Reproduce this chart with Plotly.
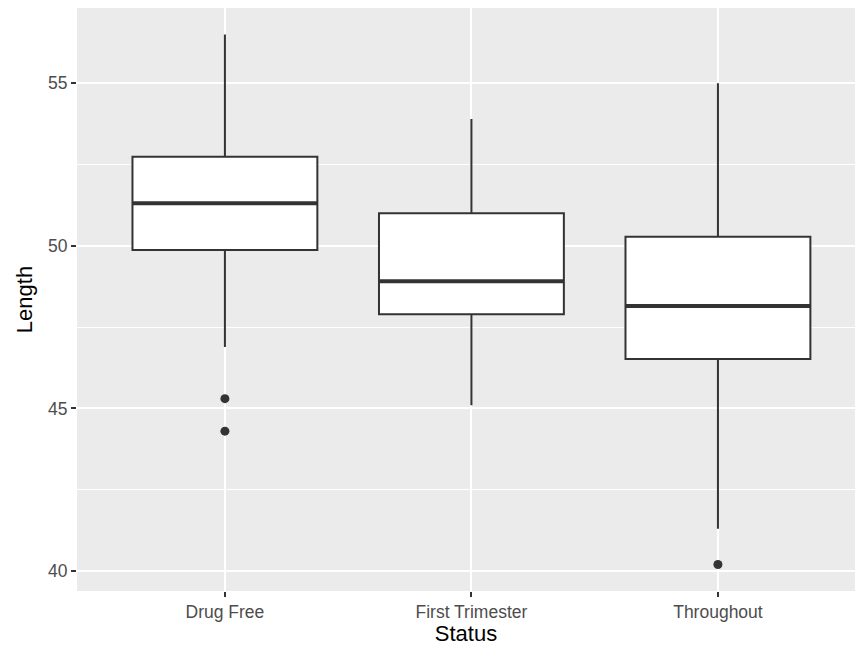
import plotly.graph_objects as go

# Summary statistics per exposure group
status = ["Drug Free", "First Trimester", "Throughout"]
q1 = [49.87, 47.90, 46.52]
median = [51.31, 48.91, 48.15]
q3 = [52.74, 51.00, 50.28]
lower_whisker = [46.89, 45.10, 41.30]
upper_whisker = [56.50, 53.90, 55.00]

# Points beyond the whiskers
outlier_group = [0, 0, 2]
outlier_length = [45.3, 44.3, 40.2]

positions = list(range(len(status)))
box_width = 0.75
ink = "#333333"

fig = go.Figure()

fig.add_trace(go.Box(
    x=positions, q1=q1, median=median, q3=q3,
    lowerfence=lower_whisker, upperfence=upper_whisker,
    width=box_width, whiskerwidth=0, boxpoints=False,
    fillcolor="white", line=dict(color=ink, width=2),
    showlegend=False, hoverinfo="skip",
))

# Thicker median bars
mx, my = [], []
for p, m in zip(positions, median):
    mx += [p - box_width / 2, p + box_width / 2, None]
    my += [m, m, None]
fig.add_trace(go.Scatter(
    x=mx, y=my, mode="lines", line=dict(color=ink, width=4),
    showlegend=False, hoverinfo="skip",
))

fig.add_trace(go.Scatter(
    x=outlier_group, y=outlier_length, mode="markers",
    marker=dict(color=ink, size=9),
    showlegend=False,
))

font_family = "Liberation Sans, Arial, sans-serif"

fig.update_layout(
    width=855, height=646,
    margin=dict(l=77, r=0, t=8, b=55, pad=0),
    paper_bgcolor="white",
    plot_bgcolor="#EBEBEB",
    font=dict(family=font_family, size=17, color="#4D4D4D"),
    xaxis=dict(
        range=[-0.6, 2.556],
        tickmode="array", tickvals=positions, ticktext=status,
        showgrid=True, gridcolor="white", gridwidth=2,
        zeroline=False, showline=False,
        ticks="outside", ticklen=5, tickwidth=2, tickcolor=ink,
        tickfont=dict(size=17.5, color="#4D4D4D"),
        title=dict(text="Status", font=dict(size=22, color="black"), standoff=3),
    ),
    yaxis=dict(
        range=[39.385, 57.315],
        tickmode="array", tickvals=[40, 45, 50, 55],
        showgrid=True, gridcolor="white", gridwidth=2,
        minor=dict(tickvals=[42.5, 47.5, 52.5], showgrid=True,
                   gridcolor="white", gridwidth=1, ticks=""),
        zeroline=False, showline=False,
        ticks="outside", ticklen=5, tickwidth=2, tickcolor=ink,
        tickfont=dict(size=17.5, color="#4D4D4D"),
        title=dict(text="Length", font=dict(size=22, color="black"), standoff=9),
    ),
)

fig.write_html("out.html")
